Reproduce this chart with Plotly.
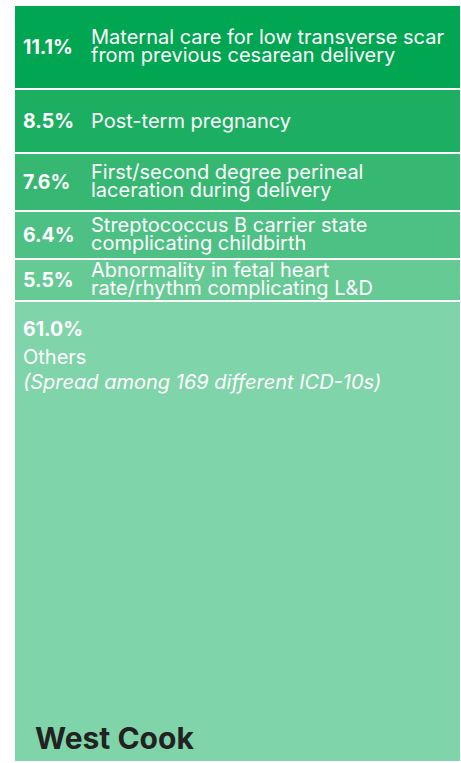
import plotly.graph_objects as go

# ---- data ----
shares = [11.1, 8.5, 7.6, 6.4, 5.5, 61.0]
pct_labels = ["11.1%", "8.5%", "7.6%", "6.4%", "5.5%", "61.0%"]
line1 = ["Maternal care for low transverse scar", "Post-term pregnancy",
         "First/second degree perineal", "Streptococcus B carrier state",
         "Abnormality in fetal heart", "Others"]
line2 = ["from previous cesarean delivery", "", "laceration during delivery",
         "complicating childbirth", "rate/rhythm complicating L&D",
         "(Spread among 169 different ICD-10s)"]
region = "West Cook"
colors = ["#00A651", "#1CAF62", "#36B873", "#4DC184", "#66CA95", "#80D4A9"]

FONT = "Inter"
PCT = 19.5
LBL = 20
fig = go.Figure()
for i, v in enumerate(shares):
    fig.add_trace(go.Bar(x=[0], y=[v], width=1,
                         marker=dict(color=colors[i], line=dict(color="white", width=2)),
                         hoverinfo="skip", showlegend=False))

total = sum(shares)
ann = []
start = 0
for i, v in enumerate(shares):
    center = start + v / 2
    if i < 5:
        ann.append(dict(x=0.016, y=center, xref="paper", yref="y", xanchor="left", yanchor="middle",
                        text=f"<b>{pct_labels[i]}</b>", showarrow=False,
                        font=dict(family=FONT, size=PCT, color="white")))
        if line2[i]:
            ann.append(dict(x=0.168, y=center, xref="paper", yref="y", xanchor="left", yanchor="middle",
                            yshift=9.5, text=line1[i], showarrow=False,
                            font=dict(family=FONT, size=LBL, color="white")))
            ann.append(dict(x=0.168, y=center, xref="paper", yref="y", xanchor="left", yanchor="middle",
                            yshift=-8.5, text=line2[i], showarrow=False,
                            font=dict(family=FONT, size=LBL, color="white")))
        else:
            ann.append(dict(x=0.168, y=center, xref="paper", yref="y", xanchor="left", yanchor="middle",
                            text=line1[i], showarrow=False,
                            font=dict(family=FONT, size=LBL, color="white")))
    else:
        ann.append(dict(x=0.016, y=start, xref="paper", yref="y", xanchor="left", yanchor="middle",
                        yshift=-28, text=f"<b>{pct_labels[i]}</b>", showarrow=False,
                        font=dict(family=FONT, size=PCT, color="white")))
        ann.append(dict(x=0.016, y=start, xref="paper", yref="y", xanchor="left", yanchor="middle",
                        yshift=-56, text=line1[i], showarrow=False,
                        font=dict(family=FONT, size=LBL, color="white")))
        ann.append(dict(x=0.016, y=start, xref="paper", yref="y", xanchor="left", yanchor="middle",
                        yshift=-81, text=f"<i>{line2[i]}</i>", showarrow=False,
                        font=dict(family=FONT, size=LBL, color="white")))
    start += v

ann.append(dict(x=0.042, y=0, xref="paper", yref="paper", xanchor="left", yanchor="bottom",
                yshift=4, text=f"<b>{region}</b>", showarrow=False,
                font=dict(family=FONT, size=30, color="#222222")))

fig.update_layout(
    barmode="stack", bargap=0, width=461, height=763,
    margin=dict(l=14, r=0, t=5, b=1),
    paper_bgcolor="white", plot_bgcolor="white",
    xaxis=dict(visible=False, range=[-0.5, 0.5], fixedrange=True),
    yaxis=dict(visible=False, range=[total, 0], fixedrange=True),
    annotations=ann,
)
fig.write_html("out.html", config={"displayModeBar": False},
               post_script="document.body.style.margin='0';document.body.style.overflow='hidden';")
